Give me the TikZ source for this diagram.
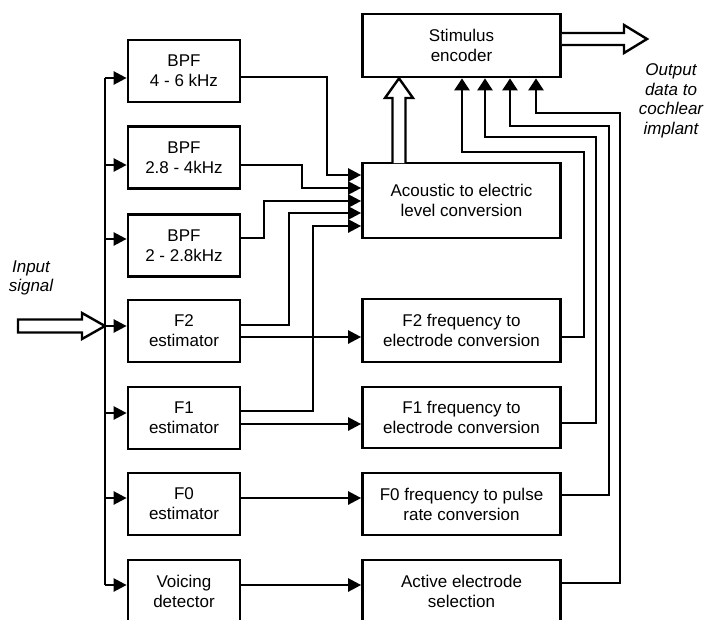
\documentclass[tikz,border=0pt]{standalone}
\usepackage{fontspec}
\setmainfont{Liberation Sans}
\usetikzlibrary{arrows.meta}
\tikzset{
  box/.style={draw, line width=2.7pt, inner sep=0pt, align=center,
    font=\fontsize{17}{20}\selectfont},
  lbox/.style={box, minimum width=112pt, minimum height=62pt},
  rbox/.style={box, minimum width=198pt, minimum height=62pt},
  conn/.style={line width=2.4pt},
  arr/.style={conn, -{Triangle[length=13pt,width=13pt]}},
  uparr/.style={conn, -{Triangle[length=12pt,width=15pt]}},
  hollow/.style={line width=2.4pt, fill=white, line join=miter},
  lbl/.style={font=\fontsize{17}{19.5}\selectfont\itshape, align=center, inner sep=0pt}
}
\begin{document}
\begin{tikzpicture}[x=1pt,y=-1pt]
\clip (0,0) rectangle (706,619);
\fill[white] (0,0) rectangle (706,619);

% left column
\node[lbox] (bpfA) at (184,71) {BPF\\4 - 6 kHz};
\node[lbox] (bpfB) at (184,157.5) {BPF\\2.8 - 4kHz};
\node[lbox] (bpfC) at (184,245.5) {BPF\\2 - 2.8kHz};
\node[lbox] (ftwo) at (184,331) {F2\\estimator};
\node[lbox] (fone) at (184,418) {F1\\estimator};
\node[lbox] (fzero) at (184,504) {F0\\estimator};
\node[lbox] (voic) at (184,591) {Voicing\\detector};

% right column
\node[rbox, minimum height=63pt] (stim) at (461.5,45.5) {Stimulus\\encoder};
\node[rbox, minimum height=75pt] (acou) at (461.5,200.5) {Acoustic to electric\\level conversion};
\node[rbox, minimum height=63pt] (ftwoc) at (461.5,330.5) {F2 frequency to\\electrode conversion};
\node[rbox, minimum height=61pt] (fonec) at (461.5,417.5) {F1 frequency to\\electrode conversion};
\node[rbox] (fzeroc) at (461.5,504) {F0 frequency to pulse\\rate conversion};
\node[rbox] (act) at (461.5,591) {Active electrode\\selection};

% labels
\node[lbl] (inlbl) at (31,278) {Input\\signal};
\node[lbl] (outlbl) at (671,101) {Output\\data to\\cochlear\\implant};

% input bus
\coordinate (busT) at (105,78);
\coordinate (busB) at (105,585);
\draw[conn] (busT) -- (busB);
\draw[arr] (busT) -- (bpfA.west |- 0,78);
\draw[arr] (105,165) -- (bpfB.west |- 0,165);
\draw[arr] (105,239) -- (bpfC.west |- 0,239);
\draw[arr] (105,326) -- (ftwo.west |- 0,326);
\draw[arr] (105,413) -- (fone.west |- 0,413);
\draw[arr] (105,498) -- (fzero.west |- 0,498);
\draw[arr] (busB) -- (voic.west |- 0,585);

% input hollow arrow
\coordinate (inTip) at (105,326);
\draw[hollow] (18,319.5) -- (82,319.5) -- (82,313) -- (inTip) -- (82,339) -- (82,332.5) -- (18,332.5) -- cycle;

% to acoustic conversion
\draw[arr] (bpfA.east |- 0,77) -- (327,77) -- (327,175) -- (acou.west |- 0,175);
\draw[arr] (bpfB.east |- 0,165) -- (302,165) -- (302,188) -- (acou.west |- 0,188);
\draw[arr] (bpfC.east |- 0,238) -- (264,238) -- (264,201) -- (acou.west |- 0,201);
\draw[arr] (ftwo.east |- 0,325) -- (289,325) -- (289,213) -- (acou.west |- 0,213);
\draw[arr] (fone.east |- 0,411) -- (313,411) -- (313,226) -- (acou.west |- 0,226);

% estimator to conversion
\draw[arr] (ftwo.east |- 0,337) -- (ftwoc.west |- 0,337);
\draw[arr] (fone.east |- 0,424) -- (fonec.west |- 0,424);
\draw[arr] (fzero.east |- 0,498) -- (fzeroc.west |- 0,498);
\draw[arr] (voic.east |- 0,585) -- (act.west |- 0,585);

% conversions to stimulus encoder
\draw[uparr] (ftwoc.east |- 0,337) -- (584,337) -- (584,152) -- (462,152) -- (stim.south -| 462,0);
\draw[uparr] (fonec.east |- 0,423) -- (596,423) -- (596,137) -- (485,137) -- (stim.south -| 485,0);
\draw[uparr] (fzeroc.east |- 0,495) -- (609,495) -- (609,126) -- (510,126) -- (stim.south -| 510,0);
\draw[uparr] (act.east |- 0,583) -- (620,583) -- (620,113) -- (536,113) -- (stim.south -| 536,0);

% hollow arrow acoustic -> stimulus
\draw[hollow] (392.5,163) -- (392.5,98) -- (385,98) -- (stim.south -| 399,0) -- (413,98) -- (405.5,98) -- (405.5,163);

% output hollow arrow
\coordinate (outTip) at (647,39);
\draw[hollow] (stim.east |- 0,33) -- (624,33) -- (624,25) -- (outTip) -- (624,53) -- (624,45) -- (stim.east |- 0,45);
\end{tikzpicture}
\end{document}
